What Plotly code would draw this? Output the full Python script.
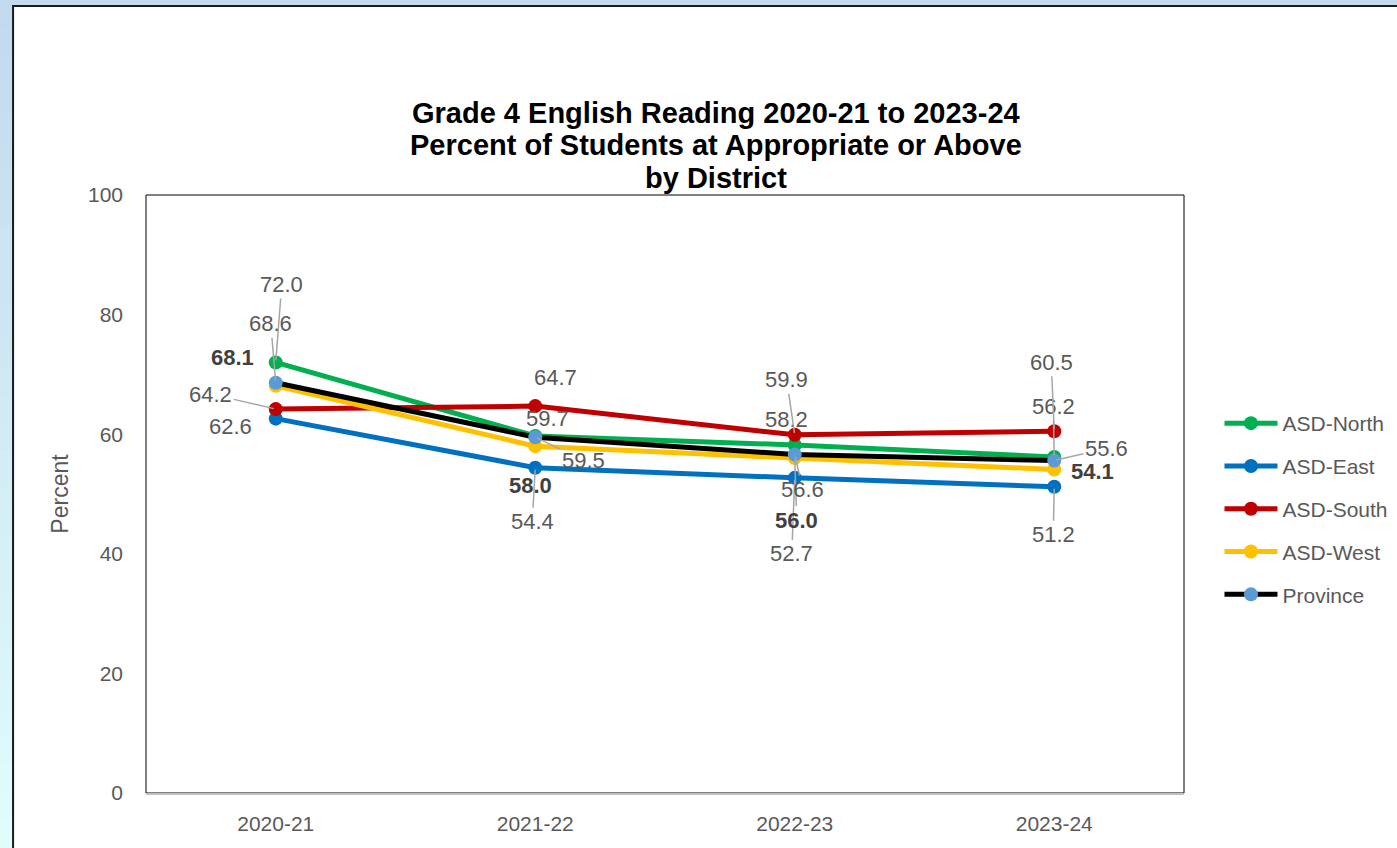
import plotly.graph_objects as go

# ---------------- data ----------------
years = ["2020-21", "2021-22", "2022-23", "2023-24"]
asd_north = [72.0, 59.7, 58.2, 56.2]
asd_east = [62.6, 54.4, 52.7, 51.2]
asd_south = [64.2, 64.7, 59.9, 60.5]
asd_west = [68.1, 58.0, 56.0, 54.1]
province = [68.6, 59.5, 56.6, 55.6]

series = [
    ("ASD-North", asd_north),
    ("ASD-East", asd_east),
    ("ASD-South", asd_south),
    ("ASD-West", asd_west),
    ("Province", province),
]

title_lines = ["Grade 4 English Reading 2020-21 to 2023-24",
               "Percent of Students at Appropriate or Above",
               "by District"]

# ---------------- styles ----------------
line_colors = {"ASD-North": "#00b050", "ASD-East": "#0070c0", "ASD-South": "#c00000",
               "ASD-West": "#ffc000", "Province": "#000000"}
marker_colors = {"ASD-North": "#00b050", "ASD-East": "#0070c0", "ASD-South": "#c00000",
                 "ASD-West": "#ffc000", "Province": "#5b9bd5"}
# label offsets in pixels (ax, ay, leader line shown)
label_offsets = {
    "ASD-North": [(6, -78, True), (12, -17, False), (-8, -25, False), (-1, -50, True)],
    "ASD-East": [(-45, 8, False), (-3, 54, True), (-3, 76, True), (-1, 48, True)],
    "ASD-South": [(-65, -15, True), (20, -29, False), (-8, -55, True), (-3, -69, True)],
    "ASD-West": [(-43, -28, False), (-5, 39, False), (2, 62, True), (38, 2, False)],
    "Province": [(-5, -59, True), (48, 23, True), (8, 35, True), (52, -12, True)],
}
bold_series = {"ASD-West"}
title_centers_px = [113, 145, 178]

W, H = 1397, 848
L, R, T, B = 146, 1184.5, 195, 793
FONT = "Liberation Sans, Arial, sans-serif"


def px_x(px):
    return (px - L) / (R - L)


def px_y(py):
    return (B - py) / (B - T)


fig = go.Figure()
for name, vals in series:
    fig.add_trace(go.Scatter(
        x=years, y=vals, name=name, mode="lines+markers",
        line=dict(color=line_colors[name], width=5),
        marker=dict(color=marker_colors[name], size=14),
        legendgroup=name,
        hoverinfo="skip",
    ))

annotations = []
for name, vals in series:
    for j, v in enumerate(vals):
        ax, ay, leader = label_offsets[name][j]
        bold = name in bold_series
        annotations.append(dict(
            x=years[j], y=v, xref="x", yref="y",
            text=f"<b>{v:.1f}</b>" if bold else f"{v:.1f}",
            showarrow=True, ax=ax, ay=ay, arrowhead=0, arrowwidth=1.5,
            arrowcolor="#a6a6a6" if leader else "rgba(0,0,0,0)", standoff=2,
            font=dict(family=FONT, size=22, color="#404040" if bold else "#595959"),
        ))

# chart title (one annotation per line for tight line spacing)
for line_text, cy in zip(title_lines, title_centers_px):
    annotations.append(dict(
        text=line_text, xref="paper", yref="paper",
        x=px_x(716), xanchor="center", y=px_y(cy), yanchor="middle",
        showarrow=False, align="center",
        font=dict(family=FONT, size=29, color="#000000", weight="bold"),
    ))

# background: gradient frame + white chart area
shapes = []
n = 30
c0 = (0xc3, 0xd9, 0xee)
c1 = (0xe0, 0xfc, 0xfb)
for k in range(n):
    t = k / (n - 1)
    col = "rgb(%d,%d,%d)" % tuple(round(a + (b - a) * t) for a, b in zip(c0, c1))
    y0 = H * k / n
    y1 = H * (k + 1) / n + 1
    shapes.append(dict(type="rect", xref="paper", yref="paper", layer="below",
                       x0=px_x(-5), x1=px_x(W + 5), y0=px_y(y1), y1=px_y(y0),
                       fillcolor=col, line=dict(width=0)))
shapes.append(dict(type="rect", xref="paper", yref="paper", layer="below",
                   x0=px_x(13), x1=px_x(W + 10), y0=px_y(H + 10), y1=px_y(6),
                   fillcolor="white", line=dict(color="#1a1a1a", width=2)))
shapes.append(dict(type="rect", xref="paper", yref="paper", layer="below",
                   x0=0, x1=1, y0=0, y1=1,
                   fillcolor="white", line=dict(color="#000000", width=1)))

fig.update_layout(
    width=W, height=H,
    margin=dict(l=L, r=W - R, t=T, b=H - B, pad=0, autoexpand=False),
    paper_bgcolor="white", plot_bgcolor="white",
    font=dict(family=FONT, size=21, color="#595959"),
    xaxis=dict(
        type="category", range=[-0.5, 3.5], showgrid=False, zeroline=False,
        showline=True, linecolor="#bfbfbf", linewidth=1.5,
        ticks="", ticklabelstandoff=11,
        tickfont=dict(family=FONT, size=21, color="#595959"),
    ),
    yaxis=dict(
        range=[0, 100], dtick=20, showgrid=False, zeroline=False,
        showline=False, ticks="", ticklabelstandoff=22,
        tickfont=dict(family=FONT, size=21, color="#595959"),
        title=dict(text="Percent", standoff=12,
                   font=dict(family=FONT, size=23, color="#595959")),
    ),
    legend=dict(
        x=px_x(1220), xanchor="left", y=px_y(403), yanchor="top",
        bgcolor="rgba(0,0,0,0)",
        font=dict(family=FONT, size=21, color="#595959"),
        tracegroupgap=12.5, itemwidth=53,
    ),
    showlegend=True,
    shapes=shapes,
    annotations=annotations,
)

fig.write_html("out.html", config={"displayModeBar": False},
               post_script="document.body.style.margin='0';")
